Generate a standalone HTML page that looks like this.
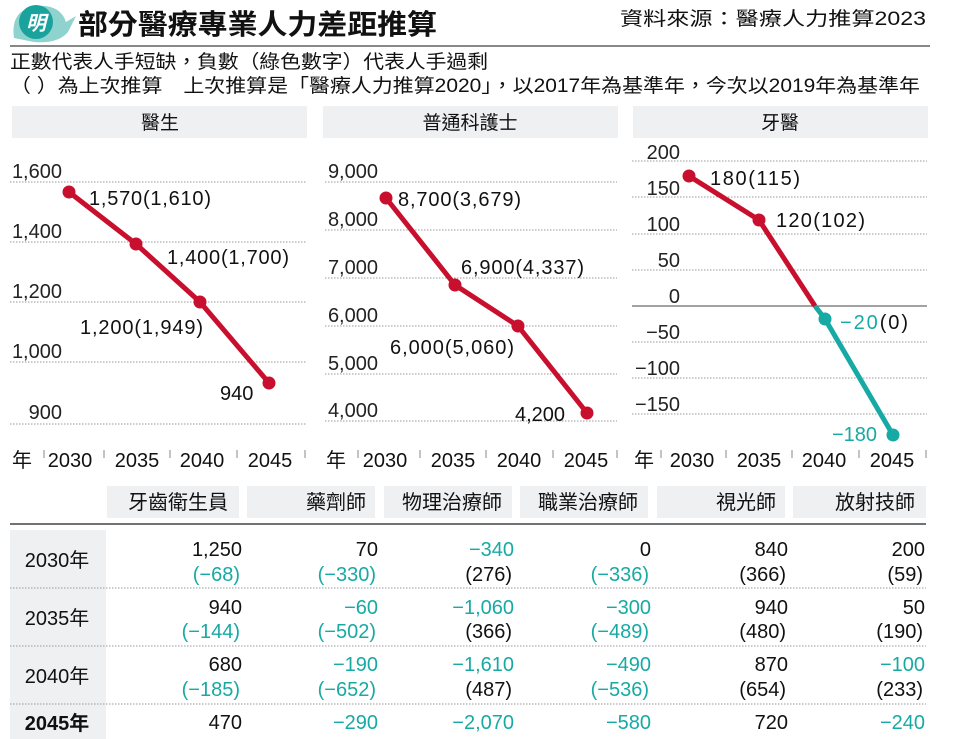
<!DOCTYPE html>
<html><head><meta charset="utf-8"><style>
body{margin:0;background:#fff}
svg{display:block;font-family:"Liberation Sans","Noto Sans CJK TC",sans-serif}
.g{stroke:#999;stroke-width:1;stroke-dasharray:1.5 1.5}
.r{fill:#c8102e}.t{fill:#17aaa4}
</style></head><body>
<svg width="954" height="739" viewBox="0 0 954 739" xmlns="http://www.w3.org/2000/svg">
<path d="M14 38 Q10 10 36 6 Q60 4 66 22 L76 16 L68 32 Q58 44 34 42 Z" fill="#8fd3cf"/>
<circle cx="36" cy="22" r="17" fill="#1aa39c"/>
<text x="36" y="30" font-size="20" font-weight="bold" fill="#fff" text-anchor="middle" font-style="italic">明</text>
<text x="78" y="34" font-size="28" font-weight="bold" fill="#111" textLength="359" lengthAdjust="spacingAndGlyphs">部分醫療專業人力差距推算</text>
<text x="620" y="25" font-size="19" fill="#111" textLength="306" lengthAdjust="spacingAndGlyphs">資料來源：醫療人力推算2023</text>
<line x1="10" y1="46" x2="930" y2="46" stroke="#888" stroke-width="2"/>
<text x="10" y="68" font-size="19" fill="#111" textLength="478" lengthAdjust="spacingAndGlyphs">正數代表人手短缺，負數（綠色數字）代表人手過剩</text>
<text x="10" y="92" font-size="19" fill="#111" textLength="910" lengthAdjust="spacingAndGlyphs">（  ）為上次推算　上次推算是「醫療人力推算2020」，以2017年為基準年，今次以2019年為基準年</text>
<rect x="12" y="106" width="295" height="32" fill="#eef0f2"/>
<rect x="323" y="106" width="295" height="32" fill="#eef0f2"/>
<rect x="633" y="106" width="295" height="32" fill="#eef0f2"/>
<g font-size="19" fill="#111" text-anchor="middle">
<text x="160" y="129">醫生</text><text x="470" y="129">普通科護士</text><text x="780" y="129">牙醫</text>
</g>
<!-- chart 1 -->
<g font-size="20" fill="#222" text-anchor="end">
<line class="g" x1="10" y1="182" x2="307" y2="182"/><line class="g" x1="10" y1="242" x2="307" y2="242"/>
<line class="g" x1="10" y1="302" x2="307" y2="302"/><line class="g" x1="10" y1="362" x2="307" y2="362"/>
<line class="g" x1="10" y1="424" x2="307" y2="424"/>
<text x="62" y="178">1,600</text><text x="62" y="238">1,400</text><text x="62" y="298">1,200</text><text x="62" y="358">1,000</text><text x="62" y="419">900</text>
</g>
<polyline points="69,192 136,244 200,302 269,383" fill="none" stroke="#c8102e" stroke-width="5" stroke-linejoin="round"/>
<g class="r"><circle cx="69" cy="192" r="6.5"/><circle cx="136" cy="244" r="6.5"/><circle cx="200" cy="302" r="6.5"/><circle cx="269" cy="383" r="6.5"/></g>
<g font-size="20" fill="#111">
<text x="89" y="205" textLength="122">1,570(1,610)</text><text x="167" y="264" textLength="122">1,400(1,700)</text><text x="80" y="334" textLength="123">1,200(1,949)</text><text x="220" y="400">940</text>
</g>
<!-- chart 2 -->
<g font-size="20" fill="#222" text-anchor="end">
<line class="g" x1="325" y1="182" x2="617" y2="182"/><line class="g" x1="325" y1="230" x2="617" y2="230"/>
<line class="g" x1="325" y1="278" x2="617" y2="278"/><line class="g" x1="325" y1="326" x2="617" y2="326"/>
<line class="g" x1="325" y1="374" x2="617" y2="374"/><line class="g" x1="325" y1="421" x2="617" y2="421"/>
<text x="378" y="178">9,000</text><text x="378" y="226">8,000</text><text x="378" y="274">7,000</text><text x="378" y="322">6,000</text><text x="378" y="370">5,000</text><text x="378" y="417">4,000</text>
</g>
<polyline points="386,198 455,285 518,326 587,413" fill="none" stroke="#c8102e" stroke-width="5" stroke-linejoin="round"/>
<g class="r"><circle cx="386" cy="198" r="6.5"/><circle cx="455" cy="285" r="6.5"/><circle cx="518" cy="326" r="6.5"/><circle cx="587" cy="413" r="6.5"/></g>
<g font-size="20" fill="#111">
<text x="398" y="206" textLength="123">8,700(3,679)</text><text x="461" y="274" textLength="123">6,900(4,337)</text><text x="390" y="354" textLength="124">6,000(5,060)</text><text x="515" y="421">4,200</text>
</g>
<!-- chart 3 -->
<g font-size="20" fill="#222" text-anchor="end">
<line class="g" x1="632" y1="161" x2="927" y2="161"/><line class="g" x1="632" y1="197" x2="927" y2="197"/>
<line class="g" x1="632" y1="234" x2="927" y2="234"/><line class="g" x1="632" y1="270" x2="927" y2="270"/>
<line x1="632" y1="306" x2="927" y2="306" stroke="#444" stroke-width="1"/>
<line class="g" x1="632" y1="342" x2="927" y2="342"/><line class="g" x1="632" y1="378" x2="927" y2="378"/>
<line class="g" x1="632" y1="414" x2="927" y2="414"/>
<text x="680" y="159">200</text><text x="680" y="195">150</text><text x="680" y="231">100</text><text x="680" y="267">50</text><text x="680" y="303">0</text><text x="680" y="339">−50</text><text x="680" y="375">−100</text><text x="680" y="411">−150</text>
</g>
<polyline points="689,176 759,220 815,306" fill="none" stroke="#c8102e" stroke-width="5" stroke-linejoin="round"/>
<polyline points="815,306 825,319 893,435" fill="none" stroke="#17aaa4" stroke-width="5" stroke-linejoin="round"/>
<g class="r"><circle cx="689" cy="176" r="6.5"/><circle cx="759" cy="220" r="6.5"/></g>
<g class="t"><circle cx="825" cy="319" r="6.5"/><circle cx="893" cy="435" r="6.5"/></g>
<g font-size="20" fill="#111">
<text x="710" y="185" textLength="90">180(115)</text><text x="776" y="227" textLength="89">120(102)</text>
<text x="840" y="329" textLength="68"><tspan fill="#17aaa4">−20</tspan>(0)</text>
<text x="832" y="441" fill="#17aaa4">−180</text>
</g>
<g font-size="20" fill="#111" text-anchor="middle">
<text x="22" y="467">年</text><text x="70" y="467">2030</text><text x="137" y="467">2035</text><text x="202" y="467">2040</text><text x="270" y="467">2045</text>
<text x="336" y="467">年</text><text x="385" y="467">2030</text><text x="453" y="467">2035</text><text x="519" y="467">2040</text><text x="586" y="467">2045</text>
<text x="644" y="467">年</text><text x="692" y="467">2030</text><text x="759" y="467">2035</text><text x="824" y="467">2040</text><text x="892" y="467">2045</text>
</g>
<g stroke="#888" stroke-width="1">
<line x1="44" y1="450" x2="44" y2="458"/><line x1="104" y1="450" x2="104" y2="458"/><line x1="170" y1="450" x2="170" y2="458"/><line x1="237" y1="450" x2="237" y2="458"/><line x1="305" y1="450" x2="305" y2="458"/>
<line x1="358" y1="450" x2="358" y2="458"/><line x1="420" y1="450" x2="420" y2="458"/><line x1="486" y1="450" x2="486" y2="458"/><line x1="553" y1="450" x2="553" y2="458"/><line x1="617" y1="450" x2="617" y2="458"/>
<line x1="661" y1="450" x2="661" y2="458"/><line x1="726" y1="450" x2="726" y2="458"/><line x1="792" y1="450" x2="792" y2="458"/><line x1="859" y1="450" x2="859" y2="458"/><line x1="926" y1="450" x2="926" y2="458"/>
</g>
<!-- table -->
<g fill="#eef0f2">
<rect x="107" y="486" width="132" height="32"/><rect x="247" y="486" width="128" height="32"/><rect x="384" y="486" width="128" height="32"/>
<rect x="520" y="486" width="128" height="32"/><rect x="657" y="486" width="128" height="32"/><rect x="793" y="486" width="133" height="32"/>
<rect x="10" y="530" width="96" height="209"/>
</g>
<g font-size="20" fill="#111">
<text x="128" y="509">牙齒衛生員</text>
<g text-anchor="end"><text x="366" y="509">藥劑師</text><text x="502" y="509">物理治療師</text><text x="638" y="509">職業治療師</text><text x="776" y="509">視光師</text><text x="915" y="509">放射技師</text></g>
</g>
<line x1="10" y1="524" x2="926" y2="524" stroke="#444" stroke-width="1.5"/>
<line class="g" x1="10" y1="588" x2="926" y2="588"/><line class="g" x1="10" y1="646" x2="926" y2="646"/><line class="g" x1="10" y1="704" x2="926" y2="704"/>
<g font-size="20" fill="#111" text-anchor="middle">
<text x="57" y="567">2030年</text><text x="57" y="625">2035年</text><text x="57" y="683">2040年</text><text x="57" y="730" font-weight="bold">2045年</text>
</g>
<g font-size="20" text-anchor="end" fill="#111">
<text x="242" y="556">1,250</text><text x="240" y="581" class="t">(−68)</text>
<text x="378" y="556">70</text><text x="376" y="581" class="t">(−330)</text>
<text x="514" y="556" class="t">−340</text><text x="512" y="581">(276)</text>
<text x="651" y="556">0</text><text x="649" y="581" class="t">(−336)</text>
<text x="788" y="556">840</text><text x="786" y="581">(366)</text>
<text x="925" y="556">200</text><text x="923" y="581">(59)</text>
<text x="242" y="614">940</text><text x="240" y="638" class="t">(−144)</text>
<text x="378" y="614" class="t">−60</text><text x="376" y="638" class="t">(−502)</text>
<text x="514" y="614" class="t">−1,060</text><text x="512" y="638">(366)</text>
<text x="651" y="614" class="t">−300</text><text x="649" y="638" class="t">(−489)</text>
<text x="788" y="614">940</text><text x="786" y="638">(480)</text>
<text x="925" y="614">50</text><text x="923" y="638">(190)</text>
<text x="242" y="671">680</text><text x="240" y="696" class="t">(−185)</text>
<text x="378" y="671" class="t">−190</text><text x="376" y="696" class="t">(−652)</text>
<text x="514" y="671" class="t">−1,610</text><text x="512" y="696">(487)</text>
<text x="651" y="671" class="t">−490</text><text x="649" y="696" class="t">(−536)</text>
<text x="788" y="671">870</text><text x="786" y="696">(654)</text>
<text x="925" y="671" class="t">−100</text><text x="923" y="696">(233)</text>
<text x="242" y="729">470</text><text x="378" y="729" class="t">−290</text><text x="514" y="729" class="t">−2,070</text>
<text x="651" y="729" class="t">−580</text><text x="788" y="729">720</text><text x="925" y="729" class="t">−240</text>
</g>
</svg>
</body></html>
